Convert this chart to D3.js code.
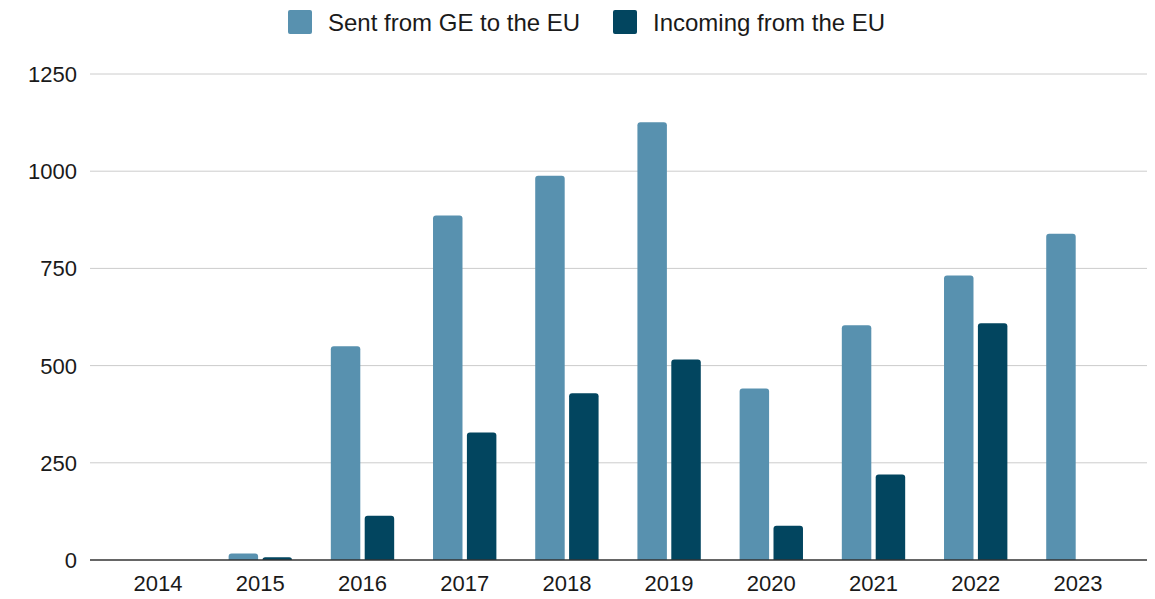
<!DOCTYPE html>
<html>
<head>
<meta charset="utf-8">
<script src="https://cdn.jsdelivr.net/npm/d3@7"></script>
<style>
  html, body { margin: 0; padding: 0; background: #fff; }
  svg { display: block; font-family: Arial, "Liberation Sans", sans-serif; }
</style>
</head>
<body>
<div id="chart"></div>
<script>
// data
const years = ["2014", "2015", "2016", "2017", "2018", "2019", "2020", "2021", "2022", "2023"];
const sentFromGE = [0, 17, 550, 886, 988, 1126, 441, 604, 732, 839];
const incomingFromEU = [0, 7, 114, 328, 429, 516, 88, 220, 609, 0];
const yTicks = [0, 250, 500, 750, 1000, 1250];
const seriesNames = ["Sent from GE to the EU", "Incoming from the EU"];
const colors = ["#5891af", "#02455f"];

const W = 1155, H = 599;
const plot = { left: 90, right: 1147, top: 74, bottom: 560 };

const svg = d3.select("#chart").append("svg").attr("width", W).attr("height", H);

const x = d3.scaleBand().domain(years).range([107, 1129]).paddingInner(0.38).paddingOuter(0.19);
const xs = d3.scaleBand().domain([0, 1]).range([0, x.bandwidth()]).paddingInner(0.13);
const y = d3.scaleLinear().domain([0, 1250]).range([plot.bottom, plot.top]);

// grid
const grid = svg.append("g");
grid.selectAll("line").data(yTicks.filter(d => d > 0)).join("line")
  .attr("x1", plot.left).attr("x2", plot.right)
  .attr("y1", d => y(d)).attr("y2", d => y(d))
  .attr("stroke", "#cccccc").attr("stroke-width", 1);

// y labels
svg.append("g").selectAll("text").data(yTicks).join("text")
  .attr("x", 77).attr("y", d => y(d)).attr("dy", "0.36em")
  .attr("text-anchor", "end").attr("font-size", 22).attr("fill", "#1a1a1a")
  .text(d => d);

// bars with rounded top corners
function barPath(x0, w, yTop, yBase, r) {
  const h = yBase - yTop;
  r = Math.min(r, h, w / 2);
  if (h <= 0) return "";
  return `M${x0},${yBase}V${yTop + r}Q${x0},${yTop} ${x0 + r},${yTop}H${x0 + w - r}Q${x0 + w},${yTop} ${x0 + w},${yTop + r}V${yBase}Z`;
}

const rows = years.map((yr, i) => ({ yr, vals: [sentFromGE[i], incomingFromEU[i]] }));
const groups = svg.append("g").selectAll("g").data(rows).join("g")
  .attr("transform", d => `translate(${x(d.yr)},0)`);
groups.selectAll("path").data(d => d.vals.map((v, k) => ({ v, k }))).join("path")
  .attr("fill", d => colors[d.k])
  .attr("d", d => barPath(xs(d.k), xs.bandwidth(), y(d.v), y(0), 3));

// baseline
svg.append("line").attr("x1", plot.left).attr("x2", plot.right)
  .attr("y1", y(0)).attr("y2", y(0)).attr("stroke", "#333").attr("stroke-width", 1.3);

// x labels
svg.append("g").selectAll("text").data(years).join("text")
  .attr("x", d => x(d) + x.bandwidth() / 2).attr("y", 591)
  .attr("text-anchor", "middle").attr("font-size", 22).attr("fill", "#1a1a1a")
  .text(d => d);

// legend
const legend = svg.append("g");
const legX = [288, 613];
seriesNames.forEach((name, k) => {
  legend.append("rect").attr("x", legX[k]).attr("y", 10).attr("width", 24).attr("height", 24)
    .attr("rx", 2).attr("fill", colors[k]);
  legend.append("text").attr("x", legX[k] + 40).attr("y", 22).attr("dy", "0.36em")
    .attr("font-size", 24).attr("fill", "#1a1a1a").text(name);
});
</script>
</body>
</html>
